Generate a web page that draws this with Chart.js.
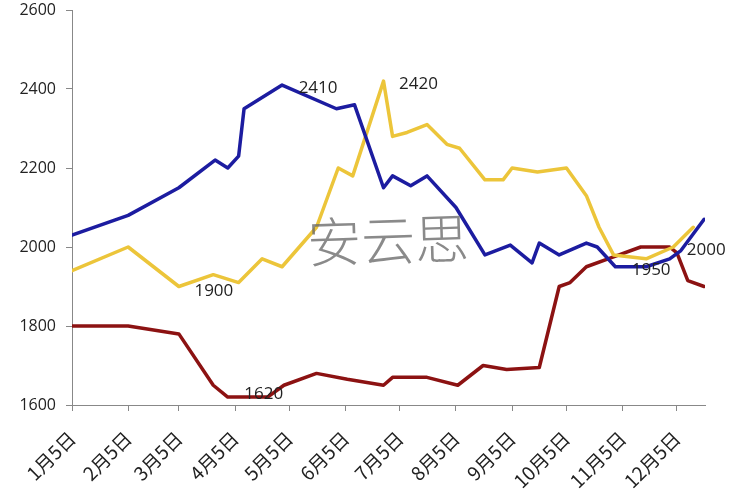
<!DOCTYPE html>
<html><head><meta charset="utf-8">
<script src="https://cdn.jsdelivr.net/npm/chart.js@4/dist/chart.umd.min.js"></script>
<style>html,body{margin:0;padding:0;background:#fff}#wrap{width:750px;height:500px;position:relative}</style>
</head><body><div id="wrap"><canvas id="c" width="750" height="500"></canvas></div>
<script>
// ---- data ----
const tickDates = ['1/5','2/5','3/5','4/5','5/5','6/5','7/5','8/5','9/5','10/5','11/5','12/5'];
const tickLabels = ['1月5日','2月5日','3月5日','4月5日','5月5日','6月5日','7月5日','8月5日','9月5日','10月5日','11月5日','12月5日'];

const blueDates  = ['1/5','2/5','3/5','3/25','4/1','4/7','4/10','5/1','5/31','6/10','6/26','7/1','7/11','7/20','8/5','8/21','9/4','9/16','9/20','10/1','10/16','10/22','11/1','11/18','12/1','12/7','12/20'];
const blueValues = [2030,2080,2150,2220,2200,2230,2350,2410,2350,2360,2150,2180,2155,2180,2100,1980,2005,1960,2010,1980,2010,2000,1950,1950,1970,1990,2070];

const yellowDates  = ['1/5','2/5','3/5','3/24','4/7','4/20','5/1','5/20','6/1','6/9','6/26','7/1','7/9','7/20','7/31','8/7','8/21','8/31','9/5','9/19','10/5','10/16','10/23','10/31','11/18','12/3','12/14'];
const yellowValues = [1940,2000,1900,1930,1910,1970,1950,2050,2200,2180,2420,2280,2290,2310,2260,2250,2170,2170,2200,2190,2200,2130,2050,1980,1970,2000,2050];

const redDates  = ['1/5','2/5','3/5','3/24','4/1','4/23','5/2','5/20','6/6','6/26','7/1','7/20','8/6','8/20','9/2','9/20','10/1','10/7','10/16','10/31','11/15','12/1','12/5','12/11','12/20'];
const redValues = [1800,1800,1780,1650,1620,1620,1650,1680,1665,1650,1670,1670,1650,1700,1690,1695,1900,1910,1950,1975,2000,2000,1985,1915,1900];

// value labels: [series, date]
const pointLabels = [['blue','5/1'],['yellow','6/26'],['yellow','3/5'],['red','4/1'],['blue','11/18'],['yellow','12/3']];
const watermarkText = '安云思';

// ---- helpers ----
const cum = [0,31,59,90,120,151,181,212,243,273,304,334];
function doy(s){const p=s.split('/').map(Number);return cum[p[0]-1]+p[1];}
function pts(dates, vals){return dates.map((d,i)=>({x:doy(d),y:vals[i]}));}
const tickDays = tickDates.map(doy);
const series = {
  blue:{dates:blueDates,idx:0},
  yellow:{dates:yellowDates,idx:1},
  red:{dates:redDates,idx:2}
};
const labelOffsets = [[36,3],[35,3],[35,5],[36,-3],[5,3],[33,3]];

const labelPlugin = {
  id:'labels',
  afterDatasetsDraw(chart){
    const ctx = chart.ctx;
    ctx.save();
    ctx.translate(388, 240);
    ctx.rotate(-0.03);
    ctx.font = '300 54px "Noto Sans CJK SC"';
    ctx.fillStyle = 'rgba(105,105,105,0.78)';
    ctx.textAlign = 'center'; ctx.textBaseline = 'middle';
    ctx.fillText(watermarkText, 0, 0);
    ctx.restore();
    ctx.save();
    ctx.font = '17px "Open Sans"';
    ctx.fillStyle = '#222';
    ctx.textAlign = 'center'; ctx.textBaseline = 'middle';
    pointLabels.forEach((pl,i)=>{
      const s = series[pl[0]];
      const j = s.dates.indexOf(pl[1]);
      const el = chart.getDatasetMeta(s.idx).data[j];
      const v = chart.data.datasets[s.idx].data[j].y;
      ctx.fillText(String(v), el.x + labelOffsets[i][0], el.y + labelOffsets[i][1]);
    });
    ctx.restore();
  }
};

new Chart(document.getElementById('c'), {
  type:'line',
  data:{datasets:[
    {data:pts(blueDates,blueValues), borderColor:'#1c1ca0', borderWidth:3.5},
    {data:pts(yellowDates,yellowValues), borderColor:'#ecc53a', borderWidth:3.5},
    {data:pts(redDates,redValues), borderColor:'#8c1212', borderWidth:3.5}
  ]},
  options:{
    responsive:false, animation:false,
    layout:{padding:{top:10,right:45,left:0,bottom:0}},
    elements:{point:{radius:0}, line:{tension:0, borderJoinStyle:'round', borderCapStyle:'round'}},
    plugins:{legend:{display:false}, tooltip:{enabled:false}},
    scales:{
      x:{type:'linear', min:5, max:354.5,
        afterBuildTicks(ax){ax.ticks = tickDays.map(v=>({value:v}));},
        afterFit(ax){ax.height = 95; ax.paddingLeft = 0; ax.paddingRight = 0;},
        ticks:{autoSkip:false, minRotation:45, maxRotation:45, color:'#222', padding:16,
          font:{family:'"Noto Sans CJK SC"', size:19},
          callback(v){const k=tickDays.indexOf(v);return k>=0?tickLabels[k]:'';}},
        grid:{display:true, drawOnChartArea:false, drawTicks:true, tickLength:6, color:'#888'},
        border:{display:true, color:'#888', width:1}
      },
      y:{min:1600, max:2600,
        afterFit(ax){ax.width = 72; ax.paddingTop = 0; ax.paddingBottom = 0;},
        ticks:{stepSize:200, color:'#222', padding:10, font:{family:'"Open Sans"', size:16},
          callback(v){return String(v);}},
        grid:{display:true, drawOnChartArea:false, drawTicks:true, tickLength:6, color:'#888'},
        border:{display:true, color:'#888', width:1}
      }
    }
  },
  plugins:[labelPlugin]
});
</script></body></html>
